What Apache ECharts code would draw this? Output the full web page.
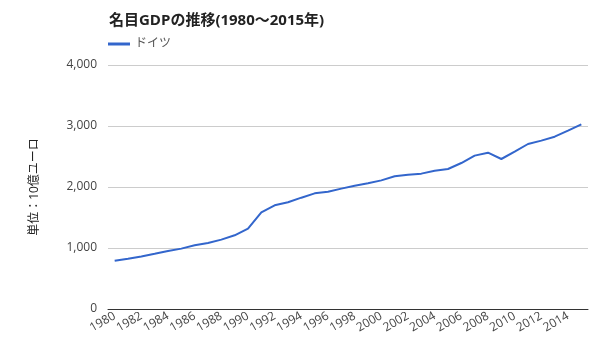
<!DOCTYPE html>
<html><head><meta charset="utf-8">
<script src="https://cdn.jsdelivr.net/npm/echarts@6/dist/echarts.min.js"></script>
<style>html,body{margin:0;padding:0;background:#fff}#c{width:600px;height:360px}</style>
</head><body><div id="c"></div>
<script>
const years = [1980,1981,1982,1983,1984,1985,1986,1987,1988,1989,1990,1991,1992,1993,1994,1995,1996,1997,1998,1999,2000,2001,2002,2003,2004,2005,2006,2007,2008,2009,2010,2011,2012,2013,2014,2015];
const germany = [790,825,862,905,950,990,1044,1082,1137,1208,1317,1585,1700,1749,1825,1896,1923,1973,2022,2060,2109,2175,2202,2219,2268,2295,2393,2514,2563,2459,2579,2705,2760,2825,2923,3027];
const seriesName = 'ドイツ';
const titleText = '名目GDPの推移(1980～2015年)';
const yAxisName = '単位：10億ユーロ';

const chart = echarts.init(document.getElementById('c'));
const font = '"Open Sans", "Noto Sans CJK JP", sans-serif';
chart.setOption({
  animation: false,
  textStyle: {fontFamily: font},
  title: {text: titleText, left: 104, top: 8,
    textStyle: {fontSize: 15, fontWeight: 'bold', color: '#222', fontFamily: font}},
  legend: {data: [seriesName], left: 103, top: 33, itemWidth: 22, itemHeight: 3, itemGap: 5,
    icon: 'rect',
    textStyle: {fontSize: 12, color: '#555', fontFamily: font}},
  grid: {left: 108, right: 12, top: 65, bottom: 51},
  xAxis: {type: 'category', data: years.map(String), boundaryGap: true,
    axisLine: {lineStyle: {color: '#333', width: 1}},
    axisTick: {show: false},
    axisLabel: {interval: 1, rotate: 30, color: '#444', fontSize: 12, margin: 6, fontFamily: font}},
  yAxis: {type: 'value', min: 0, max: 4000, interval: 1000,
    name: yAxisName, nameLocation: 'middle', nameGap: 67, nameRotate: 90,
    nameTextStyle: {color: '#222', fontSize: 12, fontFamily: font},
    axisLine: {show: false}, axisTick: {show: false},
    splitLine: {lineStyle: {color: '#ccc'}},
    axisLabel: {color: '#444', fontSize: 12, margin: 11, fontFamily: font,
      formatter: v => v.toLocaleString('en-US')}},
  series: [{name: seriesName, type: 'line', data: germany, showSymbol: false, symbol: 'none',
    lineStyle: {color: '#3366cc', width: 2}, itemStyle: {color: '#3366cc'}}]
});
</script></body></html>
